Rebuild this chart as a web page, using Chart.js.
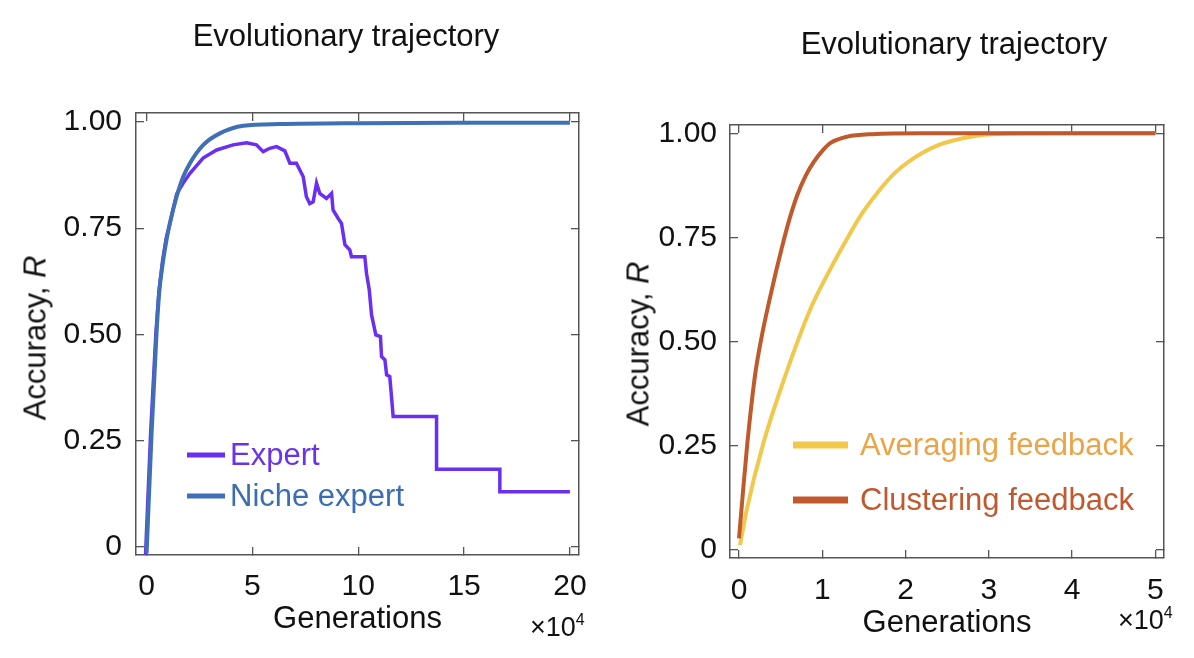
<!DOCTYPE html>
<html>
<head>
  <meta charset="UTF-8" />
  <title>Evolutionary trajectory</title>
  <script src="https://cdn.jsdelivr.net/npm/chart.js"></script>
  <style>
    body { margin: 0; background: #fff; font-family: "Liberation Sans", Arial, sans-serif; color: #111; }
    #wrap { position: relative; width: 1194px; height: 658px; overflow: hidden; }
    canvas { position: absolute; top: 0; }
    .title { position: absolute; width: 420px; text-align: center; font-size: 31px; line-height: 1; white-space: nowrap; }
    .ytitle { position: absolute; font-size: 31px; line-height: 1; white-space: nowrap; transform: translate(-50%, -50%) rotate(-90deg); }
    .mult { position: absolute; font-size: 27px; line-height: 1; white-space: nowrap; }
    .mult sup { font-size: 16px; line-height: 0; vertical-align: 11px; }
  </style>
</head>
<body>
  <div id="wrap">
    <canvas id="leftChart" width="612" height="658" style="left:0"></canvas>
    <canvas id="rightChart" width="594" height="658" style="left:600px"></canvas>

    <div class="title" style="left:136px; top:20px">Evolutionary trajectory</div>
    <div class="title" style="left:744px; top:28px">Evolutionary trajectory</div>
    <div class="ytitle" style="left:35px; top:338px">Accuracy, <i>R</i></div>
    <div class="ytitle" style="left:638px; top:344px">Accuracy, <i>R</i></div>
    <div class="mult" style="left:530px; top:614px">×10<sup>4</sup></div>
    <div class="mult" style="left:1118px; top:607px">×10<sup>4</sup></div>
  </div>

  <script>
    // ---- data (x in units of 10^4 generations) ----
    const expertX = [-0.05, 0.19, 0.44, 0.58, 0.76, 0.92, 1.07, 1.42, 1.73, 2.05, 2.67, 3.31, 4.09, 4.72, 5.19, 5.51,
      5.82, 6.14, 6.53, 6.77, 7.08, 7.24, 7.4, 7.55, 7.71, 7.87, 8.03, 8.18, 8.5, 8.74, 8.81, 9.05, 9.21, 9.37,
      9.6, 9.68, 10.31, 10.39, 10.52, 10.63, 10.83, 11.05, 11.1, 11.26, 11.34, 11.49, 11.57, 11.65,
      13.7, 13.7, 16.69, 16.69, 20];
    const expertY = [-0.02, 0.267, 0.503, 0.6, 0.675, 0.725, 0.754, 0.83, 0.856, 0.879, 0.915, 0.934, 0.946, 0.951, 0.946, 0.93,
      0.938, 0.942, 0.932, 0.903, 0.903, 0.887, 0.871, 0.824, 0.808, 0.812, 0.856, 0.832, 0.82, 0.832, 0.793, 0.773, 0.761, 0.711,
      0.699, 0.683, 0.683, 0.644, 0.605, 0.546, 0.499, 0.495, 0.448, 0.44, 0.405, 0.401, 0.354, 0.307,
      0.307, 0.183, 0.183, 0.13, 0.13];

    const nicheX = [0, 0.236, 0.47, 0.6, 0.787, 0.95, 1.1, 1.417, 1.73, 2.05, 2.68, 3.46, 4.57, 6.3, 10, 15, 20];
    const nicheY = [-0.015, 0.267, 0.503, 0.6, 0.675, 0.725, 0.762, 0.824, 0.871, 0.903, 0.946, 0.973, 0.991, 0.995, 0.997, 0.998, 0.998];

    const averagingX = [0.012, 0.092, 0.292, 0.552, 0.852, 1.072, 1.272, 1.472, 1.672, 1.872, 2.072, 2.372, 2.73, 3.05, 4, 5];
    const averagingY = [0.012, 0.096, 0.256, 0.416, 0.576, 0.665, 0.738, 0.806, 0.86, 0.905, 0.937, 0.97, 0.99, 0.998, 1.0, 1.0];

    const clusteringX = [0, 0.05, 0.1, 0.15, 0.2, 0.28, 0.36, 0.44, 0.52, 0.6, 0.7, 0.8, 0.9, 1.0, 1.1, 1.3, 1.6, 2.2, 3.5, 5];
    const clusteringY = [0.028, 0.145, 0.256, 0.35, 0.43, 0.52, 0.595, 0.665, 0.73, 0.79, 0.852, 0.898, 0.932, 0.958, 0.977, 0.992, 0.998, 1.0, 1.0, 1.0];

    const leftXTicks = [0, 5, 10, 15, 20];
    const rightXTicks = [0, 1, 2, 3, 4, 5];
    const yTickValues = [0, 0.25, 0.5, 0.75, 1];
    const yTickLabels = ['0', '0.25', '0.50', '0.75', '1.00'];

    const toPoints = (xs, ys) => xs.map((x, i) => ({ x: x, y: ys[i] }));

    Chart.defaults.font.family = '"Liberation Sans", Arial, sans-serif';
    Chart.defaults.color = '#111';

    // legend drawn inside the plot area
    const insideLegend = {
      id: 'insideLegend',
      afterDraw(chart, args, opts) {
        const ctx = chart.ctx;
        ctx.save();
        ctx.font = '31px "Liberation Sans", Arial, sans-serif';
        ctx.textBaseline = 'middle';
        ctx.lineCap = 'butt';
        chart.data.datasets.forEach((ds, i) => {
          const y = opts.y + i * opts.gap;
          ctx.strokeStyle = ds.borderColor;
          ctx.lineWidth = opts.lineWidth;
          ctx.beginPath();
          ctx.moveTo(opts.x, y);
          ctx.lineTo(opts.x + opts.len, y);
          ctx.stroke();
          ctx.fillStyle = ds.legendColor || ds.borderColor;
          ctx.fillText(ds.label, opts.x + opts.len + opts.textGap, y + 1);
        });
        ctx.restore();
      }
    };

    const frameGrid = { drawOnChartArea: false, drawTicks: true, tickLength: -8, color: '#555', lineWidth: 1.3 };
    const frameBorder = { display: true, color: '#555', width: 1.5 };

    function makeScales(xMin, xMax, xTicks, yMin, yMax, yWidth, xHeight, xPad, yPad, titlePad) {
      const setX = s => { s.ticks = xTicks.map(v => ({ value: v })); };
      const setY = s => { s.ticks = yTickValues.map(v => ({ value: v })); };
      return {
        x: {
          type: 'linear', min: xMin, max: xMax,
          afterBuildTicks: setX, afterFit: s => { s.height = xHeight; },
          grid: frameGrid, border: frameBorder,
          ticks: { padding: xPad, font: { size: 30 }, color: '#111', maxRotation: 0, autoSkip: false, callback: v => String(v) },
          title: { display: true, text: 'Generations', font: { size: 31 }, color: '#111', padding: { top: 0, bottom: titlePad } }
        },
        x2: {
          axis: 'x', type: 'linear', position: 'top', min: xMin, max: xMax,
          afterBuildTicks: setX, afterFit: s => { s.height = 0; },
          grid: frameGrid, border: frameBorder,
          ticks: { autoSkip: false, callback: () => '' }
        },
        y: {
          type: 'linear', min: yMin, max: yMax,
          afterBuildTicks: setY, afterFit: s => { s.width = yWidth; },
          grid: frameGrid, border: frameBorder,
          ticks: { padding: yPad, font: { size: 30 }, color: '#111', autoSkip: false,
            callback: v => yTickLabels[yTickValues.indexOf(v)] }
        },
        y2: {
          axis: 'y', type: 'linear', position: 'right', min: yMin, max: yMax,
          afterBuildTicks: setY, afterFit: s => { s.width = 0; },
          grid: frameGrid, border: frameBorder,
          ticks: { autoSkip: false, callback: () => '' }
        }
      };
    }

    new Chart(document.getElementById('leftChart'), {
      type: 'scatter',
      data: {
        datasets: [
          { label: 'Expert', data: toPoints(expertX, expertY), showLine: true, borderColor: '#6a2ff2',
            legendColor: '#6a33ea', borderWidth: 3.5, pointRadius: 0, tension: 0, order: 1 },
          { label: 'Niche expert', data: toPoints(nicheX, nicheY), showLine: true, borderColor: '#3f70b6',
            legendColor: '#3b6db3', borderWidth: 4, pointRadius: 0, cubicInterpolationMode: 'monotone', order: 0 }
        ]
      },
      options: {
        responsive: false,
        animation: false,
        events: [],
        layout: { padding: { left: 0, right: 33, top: 113, bottom: 0 } },
        plugins: {
          legend: { display: false },
          tooltip: { enabled: false },
          insideLegend: { x: 187, y: 455, gap: 41, len: 38, lineWidth: 5, textGap: 5 }
        },
        scales: makeScales(-0.5, 20.43, leftXTicks, -0.019, 1.021, 136, 103, 22, 22, 20)
      },
      plugins: [insideLegend]
    });

    new Chart(document.getElementById('rightChart'), {
      type: 'scatter',
      data: {
        datasets: [
          { label: 'Averaging feedback', data: toPoints(averagingX, averagingY), showLine: true, borderColor: '#f1c84b',
            legendColor: '#eba447', borderWidth: 4, pointRadius: 0, cubicInterpolationMode: 'monotone', order: 1 },
          { label: 'Clustering feedback', data: toPoints(clusteringX, clusteringY), showLine: true, borderColor: '#c05a2c',
            legendColor: '#c05a2e', borderWidth: 4, pointRadius: 0, cubicInterpolationMode: 'monotone', order: 0 }
        ]
      },
      options: {
        responsive: false,
        animation: false,
        events: [],
        layout: { padding: { left: 0, right: 30, top: 125, bottom: 0 } },
        plugins: {
          legend: { display: false },
          tooltip: { enabled: false },
          insideLegend: { x: 193, y: 445, gap: 55, len: 55, lineWidth: 7, textGap: 12 }
        },
        scales: makeScales(-0.108, 5.103, rightXTicks, -0.019, 1.02, 130, 100, 23, 21, 16)
      },
      plugins: [insideLegend]
    });
  </script>
</body>
</html>
